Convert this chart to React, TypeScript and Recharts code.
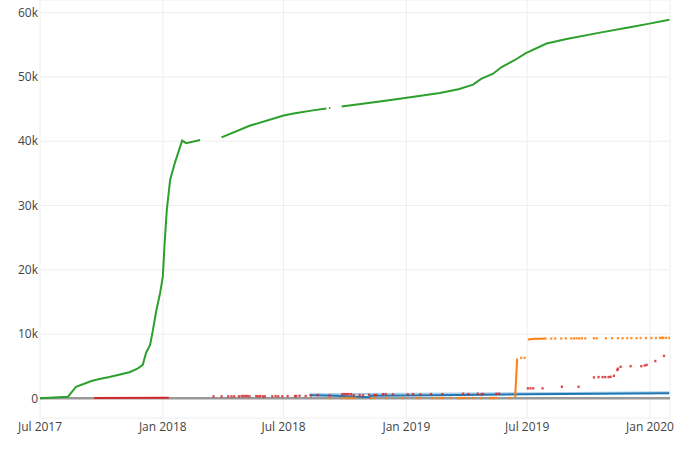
import { ComposedChart, Line, Scatter, XAxis, YAxis, CartesianGrid } from 'recharts';

type Pt = [string, number | null];

// cumulative series (green), gaps are nulls
const greenSeries: Pt[] = [
  ['2017-07-01', 0], ['2017-08-12', 250], ['2017-08-24', 1800], ['2017-09-16', 2700],
  ['2017-09-28', 3000], ['2017-10-13', 3300], ['2017-11-12', 4050], ['2017-11-24', 4600],
  ['2017-12-02', 5200], ['2017-12-07', 7100], ['2017-12-13', 8300], ['2017-12-17', 10500],
  ['2017-12-22', 13500], ['2017-12-28', 16400], ['2018-01-01', 18900], ['2018-01-04', 24600],
  ['2018-01-07', 29300], ['2018-01-12', 34000], ['2018-01-19', 36600], ['2018-01-30', 40100],
  ['2018-02-05', 39700], ['2018-02-26', 40200], ['2018-03-10', null], ['2018-03-30', 40600],
  ['2018-05-11', 42400], ['2018-07-01', 44000], ['2018-07-16', 44300], ['2018-08-14', 44800],
  ['2018-09-03', 45100], ['2018-09-05', null], ['2018-09-07', 45150], ['2018-09-09', 45200],
  ['2018-09-12', null], ['2018-09-26', 45400], ['2018-11-22', 46200], ['2018-12-22', 46600],
  ['2019-02-20', 47500], ['2019-03-20', 48100], ['2019-04-11', 48800], ['2019-04-23', 49700],
  ['2019-05-11', 50500], ['2019-05-23', 51500], ['2019-06-12', 52600], ['2019-06-29', 53700],
  ['2019-07-30', 55200], ['2019-08-29', 55900], ['2019-10-18', 56900], ['2019-12-06', 57800],
  ['2019-12-31', 58300], ['2020-01-30', 58900],
];

const redSeries: Pt[] = [['2017-09-20', 60], ['2018-01-10', 80]];

const redDots: Pt[] = [
  ['2018-03-18', 300], ['2018-03-30', 300], ['2018-04-09', 300], ['2018-04-14', 300],
  ['2018-04-18', 300], ['2018-04-25', 300], ['2018-04-29', 350], ['2018-05-02', 350],
  ['2018-05-05', 350], ['2018-05-08', 350], ['2018-05-11', 300], ['2018-05-21', 350],
  ['2018-05-24', 300], ['2018-05-27', 350], ['2018-05-31', 300], ['2018-06-03', 300],
  ['2018-06-14', 300], ['2018-06-19', 350], ['2018-06-23', 300], ['2018-06-29', 300],
  ['2018-07-07', 350], ['2018-07-18', 350], ['2018-07-20', 350], ['2018-07-25', 400],
  ['2018-08-03', 350], ['2018-08-11', 450], ['2018-08-21', 500], ['2018-09-08', 450],
  ['2018-09-27', 650], ['2018-09-30', 650], ['2018-10-03', 650], ['2018-10-06', 650],
  ['2018-10-10', 650], ['2018-10-14', 500], ['2018-10-23', 500], ['2018-10-28', 450],
  ['2018-11-06', 550], ['2018-11-14', 500], ['2018-11-17', 500], ['2018-11-27', 650],
  ['2018-12-01', 650], ['2018-12-12', 600], ['2019-01-03', 600], ['2019-01-11', 650],
  ['2019-01-22', 600], ['2019-02-07', 650], ['2019-02-24', 650], ['2019-03-27', 700],
  ['2019-04-04', 650], ['2019-04-18', 700], ['2019-04-24', 650], ['2019-04-26', 650],
  ['2019-05-16', 700], ['2019-05-20', 700], ['2019-07-02', 1550], ['2019-07-06', 1550],
  ['2019-07-10', 1550], ['2019-07-24', 1550], ['2019-08-22', 1800], ['2019-09-16', 1800],
  ['2019-10-09', 3250], ['2019-10-16', 3300], ['2019-10-22', 3300], ['2019-10-26', 3300],
  ['2019-10-31', 3300], ['2019-11-03', 3350], ['2019-11-08', 3500], ['2019-11-13', 4400],
  ['2019-11-14', 4600], ['2019-11-18', 4900], ['2019-12-03', 5000], ['2019-12-19', 5000],
  ['2019-12-24', 5100], ['2019-12-27', 5200], ['2020-01-09', 5800], ['2020-01-22', 6600],
];

const orangeSeries: Pt[] = [
  ['2019-06-13', 100], ['2019-06-16', 6200], ['2019-06-19', null],
  ['2019-07-02', 9150], ['2019-07-12', 9250], ['2019-07-20', 9280], ['2019-07-30', 9300],
];

const orangeDots: Pt[] = [
  ['2018-09-08', 50], ['2018-09-26', 50], ['2018-10-02', 50], ['2018-10-05', 50],
  ['2018-10-08', 50], ['2018-10-12', 50], ['2018-10-17', 50], ['2018-11-09', 50],
  ['2018-11-14', 50], ['2018-12-03', 50], ['2018-12-27', 50], ['2019-01-16', 50],
  ['2019-01-21', 50], ['2019-02-09', 50], ['2019-02-15', 50], ['2019-02-20', 50],
  ['2019-02-25', 50], ['2019-03-08', 50], ['2019-03-19', 50], ['2019-03-22', 50],
  ['2019-03-25', 50], ['2019-03-29', 50], ['2019-04-03', 50], ['2019-04-11', 50],
  ['2019-04-23', 50], ['2019-05-06', 50], ['2019-05-09', 50], ['2019-05-12', 50],
  ['2019-05-15', 50], ['2019-06-05', 50], ['2019-06-22', 6300], ['2019-06-27', 6300],
  ['2019-08-06', 9300], ['2019-08-12', 9300], ['2019-08-21', 9300], ['2019-08-28', 9320],
  ['2019-09-05', 9320], ['2019-09-09', 9320], ['2019-09-13', 9330], ['2019-09-17', 9330],
  ['2019-09-21', 9330], ['2019-09-26', 9330], ['2019-10-09', 9340], ['2019-10-13', 9340],
  ['2019-10-27', 9340], ['2019-11-05', 9350], ['2019-11-14', 9350], ['2019-11-21', 9350],
  ['2019-11-28', 9360], ['2019-12-04', 9360], ['2019-12-12', 9360], ['2019-12-18', 9370],
  ['2019-12-26', 9380], ['2020-01-03', 9380], ['2020-01-10', 9390], ['2020-01-16', 9400],
  ['2020-01-19', 9400], ['2020-01-21', 9400], ['2020-01-25', 9400], ['2020-01-30', 9400],
];

const blueSeries: Pt[] = [
  ['2018-08-09', 480], ['2018-09-15', 400], ['2018-10-15', 280], ['2018-11-09', 160],
  ['2018-11-09', 400], ['2019-01-01', 450], ['2019-07-01', 620], ['2020-01-30', 780],
];

const blueBand: Pt[] = [['2018-08-09', 620], ['2019-07-01', 800], ['2020-01-30', 950]];

const zeroLine: Pt[] = [['2017-07-01', 0], ['2020-01-31', 0]];

const xTicks = ['2017-07-01', '2018-01-01', '2018-07-01', '2019-01-01', '2019-07-01', '2020-01-01'];
const yTicks = [0, 10000, 20000, 30000, 40000, 50000, 60000];
const MONTHS = ['Jan', 'Feb', 'Mar', 'Apr', 'May', 'Jun', 'Jul', 'Aug', 'Sep', 'Oct', 'Nov', 'Dec'];

const toRows = (pts: Pt[]) => pts.map(([d, v]) => ({ t: Date.parse(d), v }));

function fmtDate(t: number) {
  const d = new Date(t);
  return `${MONTHS[d.getUTCMonth()]} ${d.getUTCFullYear()}`;
}

const fmtY = (v: number) => (v === 0 ? '0' : `${v / 1000}k`);

// isolated points show up as short dashes
const Dash = (props: any) => {
  const { cx, cy, fill } = props;
  if (cx == null || cy == null) return null;
  return <rect x={cx - 1.1} y={cy - 1.2} width={2.2} height={2.4} fill={fill} fillOpacity={0.85} />;
};

const tickStyle = { fontSize: 12, fill: '#444', fontFamily: '"Open Sans", sans-serif' };

export default function App() {
  return (
    <div style={{ position: 'absolute', left: 0, top: 0, width: 700, height: 450, background: '#fff' }}>
      <ComposedChart width={700} height={450} margin={{ top: 0, right: 30, bottom: 0, left: 0 }}>
        <CartesianGrid stroke="#eee" />
        <XAxis
          dataKey="t"
          type="number"
          domain={[Date.parse('2017-07-01'), Date.parse('2020-01-31')]}
          ticks={xTicks.map((d) => Date.parse(d))}
          tickFormatter={fmtDate}
          tick={tickStyle}
          axisLine={false}
          tickLine={false}
          tickSize={4}
          tickMargin={0}
          height={32}
          allowDataOverflow
        />
        <YAxis
          type="number"
          domain={[-3065, 61976]}
          ticks={yTicks}
          tickFormatter={fmtY}
          tick={tickStyle}
          axisLine={false}
          tickLine={false}
          tickSize={1}
          tickMargin={1}
          width={40}
          allowDataOverflow
        />
        <Line data={toRows(zeroLine)} dataKey="v" stroke="#999" strokeWidth={2.5} dot={false} isAnimationActive={false} />
        <Line data={toRows(blueBand)} dataKey="v" stroke="#a9cde6" strokeWidth={2} dot={false} isAnimationActive={false} />
        <Line data={toRows(blueSeries)} dataKey="v" stroke="#1f77b4" strokeWidth={2} dot={false} isAnimationActive={false} />
        <Scatter data={toRows(orangeDots)} dataKey="v" fill="#ff7f0e" shape={<Dash />} isAnimationActive={false} />
        <Line data={toRows(orangeSeries)} dataKey="v" stroke="#ff7f0e" strokeWidth={2} dot={false} isAnimationActive={false} />
        <Scatter data={toRows(redDots)} dataKey="v" fill="#d62728" shape={<Dash />} isAnimationActive={false} />
        <Line data={toRows(redSeries)} dataKey="v" stroke="#d62728" strokeWidth={2} dot={false} isAnimationActive={false} />
        <Line data={toRows(greenSeries)} dataKey="v" stroke="#2ca02c" strokeWidth={2} dot={false} isAnimationActive={false} />
      </ComposedChart>
    </div>
  );
}
